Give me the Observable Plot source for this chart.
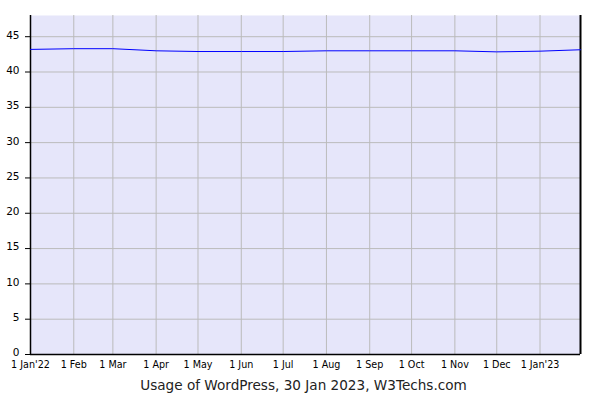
<!DOCTYPE html>
<html>
<head>
<meta charset="utf-8">
<script src="https://cdn.jsdelivr.net/npm/d3@7"></script>
<script src="https://cdn.jsdelivr.net/npm/@observablehq/plot@0.6"></script>
<style>
  html, body { margin: 0; padding: 0; background: #fff; }
  #chart figure { margin: 0; }
  #chart figcaption {
    font-family: "DejaVu Sans", Verdana, sans-serif;
    font-size: 13.6px;
    line-height: 16px;
    color: #222;
    text-align: center;
    padding-left: 7px;
    margin-top: 5px;
  }
</style>
</head>
<body>
<div id="chart"></div>
<script>
const dates = ["2022-01-01","2022-02-01","2022-03-01","2022-04-01","2022-05-01","2022-06-01","2022-07-01","2022-08-01","2022-09-01","2022-10-01","2022-11-01","2022-12-01","2023-01-01","2023-01-30"];
const usage = [43.2, 43.3, 43.3, 43.0, 42.9, 42.9, 42.9, 43.0, 43.0, 43.0, 43.0, 42.85, 42.95, 43.15];
const xTickDates = ["2022-01-01","2022-02-01","2022-03-01","2022-04-01","2022-05-01","2022-06-01","2022-07-01","2022-08-01","2022-09-01","2022-10-01","2022-11-01","2022-12-01","2023-01-01"];
const xTickLabels = ["1 Jan'22","1 Feb","1 Mar","1 Apr","1 May","1 Jun","1 Jul","1 Aug","1 Sep","1 Oct","1 Nov","1 Dec","1 Jan'23"];
const yTicks = [0, 5, 10, 15, 20, 25, 30, 35, 40, 45];
const xDomain = ["2022-01-01", "2023-01-30"];
const yDomain = [0, 48];
const caption = "Usage of WordPress, 30 Jan 2023, W3Techs.com";

const data = dates.map((d, i) => ({date: new Date(d), value: usage[i]}));
const xTicks = xTickDates.map(d => new Date(d));
const labelOf = new Map(xTicks.map((d, i) => [+d, xTickLabels[i]]));
const xDom = xDomain.map(d => new Date(d));

const plot = Plot.plot({
  width: 600,
  height: 372,
  marginTop: 15,
  marginBottom: 18,
  marginLeft: 30,
  marginRight: 20,
  style: {fontFamily: "'DejaVu Sans', sans-serif", fontSize: "10px", color: "#000"},
  x: {type: "utc", domain: xDom, label: null},
  y: {domain: yDomain, label: null},
  caption: caption,
  marks: [
    Plot.frame({fill: "#E6E6FA", stroke: null}),
    Plot.gridX(xTicks, {stroke: "#bbb", strokeOpacity: 1}),
    Plot.gridY(yTicks, {stroke: "#bbb", strokeOpacity: 1}),
    Plot.axisY(yTicks, {tickSize: 5, text: null, stroke: "#000", label: null}),
    Plot.axisY(yTicks, {tickSize: 0, tickPadding: 11, fontSize: 10.5, dy: -1.5, label: null}),
    Plot.axisX(xTicks, {tickSize: 0, tickPadding: 7, fontSize: 9.6, tickFormat: d => labelOf.get(+d), label: null}),
    Plot.ruleY([yDomain[0]], {stroke: "#000", strokeWidth: 1.5}),
    Plot.ruleX([xDom[0]], {stroke: "#000", strokeWidth: 1.5}),
    Plot.ruleX([xDom[1]], {stroke: "#000", strokeWidth: 2}),
    Plot.line(data, {x: "date", y: "value", stroke: "#0000ff", strokeWidth: 1})
  ]
});
document.getElementById("chart").appendChild(plot);
</script>
</body>
</html>
